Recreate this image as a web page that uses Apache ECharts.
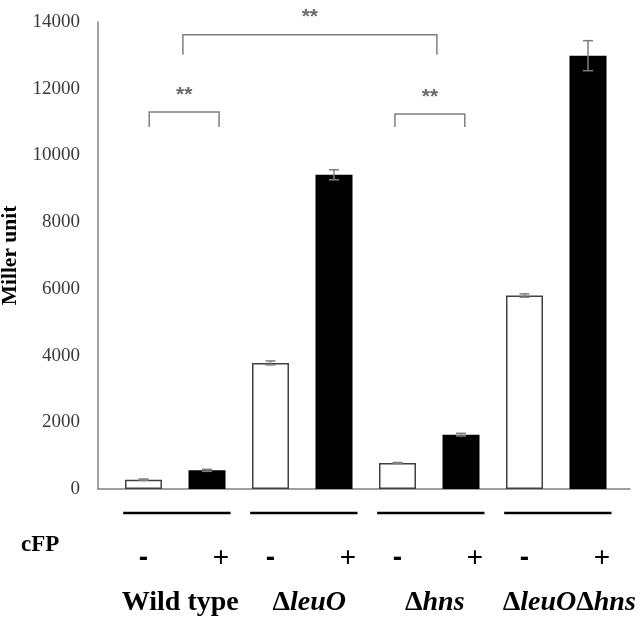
<!DOCTYPE html>
<html>
<head>
<meta charset="utf-8">
<script src="https://cdn.jsdelivr.net/npm/echarts@6/dist/echarts.min.js"></script>
<style>
  html, body { margin: 0; padding: 0; background: #fff; }
  #chart { width: 640px; height: 619px; }
</style>
</head>
<body>
<div id="chart"></div>
<script>
// strains, cFP treatment per bar and measured Miller units
const groups = ["Wild type", "ΔleuO", "Δhns", "ΔleuOΔhns"]
const cfp = ["-", "+", "-", "+", "-", "+", "-", "+"]
const miller = [280, 560, 3780, 9420, 780, 1630, 5800, 12990]
const millerErr = [20, 30, 60, 150, 15, 40, 50, 450]
const yMin = 0
const yMax = 14000
const yStep = 2000

// significance brackets (bar index positions, value levels)
const sigFrom = [0.09, 0.62, 3.96]
const sigTo = [1.19, 4.62, 5.06]
const sigTop = [11300, 13620, 11240]
const sigLeg = [10850, 13020, 10850]
const sigText = ["**", "**", "**"]

const serif = "'Liberation Serif', 'Times New Roman', serif"
const sans = "'Liberation Sans', Arial, sans-serif"
const gray = "#7f7f7f"

const chart = echarts.init(document.getElementById("chart"), null, { renderer: "canvas" })

// group labels sit a little right of the group centre in the original
const labelShift = [10, 14, 11, 26]

// group label rich text: delta upright, gene name italic
function groupLabel(name, idx) {
  const lead = "{s" + idx + "|}"
  if (name === "Wild type") return lead + "{w|Wild type}"
  return lead + name.split("Δ").filter(s => s).map(s => "{d|Δ}{i|" + s + "}").join("")
}

const groupRich = {
  w: { fontFamily: serif, fontSize: 28, lineHeight: 28, fontWeight: "bold", color: "#000" },
  d: { fontFamily: serif, fontSize: 28, lineHeight: 28, fontWeight: "bold", color: "#000" },
  i: { fontFamily: serif, fontSize: 28, lineHeight: 28, fontWeight: "bold", fontStyle: "italic", color: "#000" },
}
labelShift.forEach((w, k) => { groupRich["s" + k] = { width: w, lineHeight: 28 } })

const gridBox = { top: 22, bottom: 130, outerBoundsMode: "none", containLabel: false }

const option = {
  animation: false,
  backgroundColor: "#fff",
  grid: [
    Object.assign({ left: 111.75, right: 20.25 }, gridBox),
    Object.assign({ left: 98, right: 10 }, gridBox),
    Object.assign({ left: 111.75, right: 20.25 }, gridBox),
  ],
  xAxis: [
    {
      type: "category",
      gridIndex: 0,
      data: cfp,
      axisLine: { show: false },
      axisTick: { show: false },
      axisLabel: {
        interval: 0,
        margin: 55,
        formatter: v => (v === "+" ? "{p|+}" : "{m|-}"),
        rich: {
          p: { fontFamily: sans, fontSize: 28, lineHeight: 28, color: "#000", padding: [0, 0, 0, 28] },
          m: { fontFamily: sans, fontSize: 28, lineHeight: 28, color: "#000", fontWeight: "bold" },
        },
      },
    },
    {
      type: "value",
      gridIndex: 1,
      min: 0,
      max: 1,
      axisLine: { show: true, onZero: false, lineStyle: { color: "#808080", width: 1.5 } },
      axisTick: { show: false },
      axisLabel: { show: false },
      splitLine: { show: false },
    },
    {
      type: "category",
      gridIndex: 2,
      data: groups,
      axisLine: { show: false },
      axisTick: { show: false },
      axisLabel: {
        interval: 0,
        hideOverlap: false,
        margin: 100,
        formatter: groupLabel,
        rich: groupRich,
      },
    },
  ],
  yAxis: [
    {
      type: "value",
      gridIndex: 0,
      min: yMin,
      max: yMax,
      interval: yStep,
      offset: 13.75,
      name: "Miller unit",
      nameLocation: "middle",
      nameRotate: 90,
      nameGap: 74,
      nameTextStyle: { fontFamily: serif, fontSize: 21.5, fontWeight: "bold", color: "#000" },
      axisLine: { show: true, lineStyle: { color: "#808080", width: 1.5 } },
      axisTick: { show: false },
      splitLine: { show: false },
      axisLabel: { margin: 18, fontFamily: serif, fontSize: 19, color: "#3a3a3a", formatter: v => String(v) },
    },
    { type: "value", gridIndex: 1, show: false, min: 0, max: 1 },
    { type: "value", gridIndex: 2, show: false, min: 0, max: 1 },
  ],
  series: [
    {
      type: "bar",
      xAxisIndex: 0,
      yAxisIndex: 0,
      barWidth: 37,
      data: miller.map((v, i) => ({
        value: v,
        itemStyle: cfp[i] === "+"
          ? { color: "#000", borderColor: "#000", borderWidth: 0 }
          : { color: "#fff", borderColor: "#404040", borderWidth: 1.5 },
      })),
    },
    {
      type: "custom",
      xAxisIndex: 0,
      yAxisIndex: 0,
      data: miller.map((v, i) => [i, v - millerErr[i], v + millerErr[i]]),
      encode: { x: 0, y: [1, 2] },
      z: 5,
      renderItem: function (params, api) {
        const lo = api.coord([api.value(0), api.value(1)])
        const hi = api.coord([api.value(0), api.value(2)])
        const w = 5
        const st = { stroke: gray, lineWidth: 1.5 }
        return {
          type: "group",
          children: [
            { type: "line", shape: { x1: hi[0], y1: hi[1], x2: lo[0], y2: lo[1] }, style: st },
            { type: "line", shape: { x1: hi[0] - w, y1: hi[1], x2: hi[0] + w, y2: hi[1] }, style: st },
            { type: "line", shape: { x1: lo[0] - w, y1: lo[1], x2: lo[0] + w, y2: lo[1] }, style: st },
          ],
        }
      },
    },
  ],
}

chart.setOption(option)

// annotations placed from the bar axis scale
const f = { xAxisIndex: 0, yAxisIndex: 0 }
const p0 = chart.convertToPixel(f, [0, 0])
const p1 = chart.convertToPixel(f, [1, 0])
const band = p1[0] - p0[0]
const xAt = i => p0[0] + i * band
const yAt = v => chart.convertToPixel(f, [0, v])[1]

const graphics = []
sigFrom.forEach((a, k) => {
  const x1 = xAt(a), x2 = xAt(sigTo[k])
  const yt = yAt(sigTop[k]), yl = yAt(sigLeg[k])
  graphics.push({
    type: "polyline",
    shape: { points: [[x1, yl], [x1, yt], [x2, yt], [x2, yl]] },
    style: { stroke: gray, lineWidth: 1.5, fill: null },
  })
  graphics.push({
    type: "text",
    x: (x1 + x2) / 2,
    y: yt - 17,
    style: { text: sigText[k], fontFamily: sans, fontSize: 21, fontWeight: "bold", fill: "#6a6a6a", align: "center", verticalAlign: "middle" },
  })
})

// underline of each strain group
groups.forEach((g, k) => {
  graphics.push({
    type: "line",
    shape: { x1: xAt(2 * k - 0.32), y1: p0[1] + 24, x2: xAt(2 * k + 1.37), y2: p0[1] + 24 },
    style: { stroke: "#000", lineWidth: 2.5 },
  })
})

graphics.push({
  type: "text",
  x: 21,
  y: 545,
  style: { text: "cFP", fontFamily: serif, fontSize: 23, fontWeight: "bold", fill: "#000", verticalAlign: "middle" },
})

chart.setOption({ graphic: graphics })
</script>
</body>
</html>
